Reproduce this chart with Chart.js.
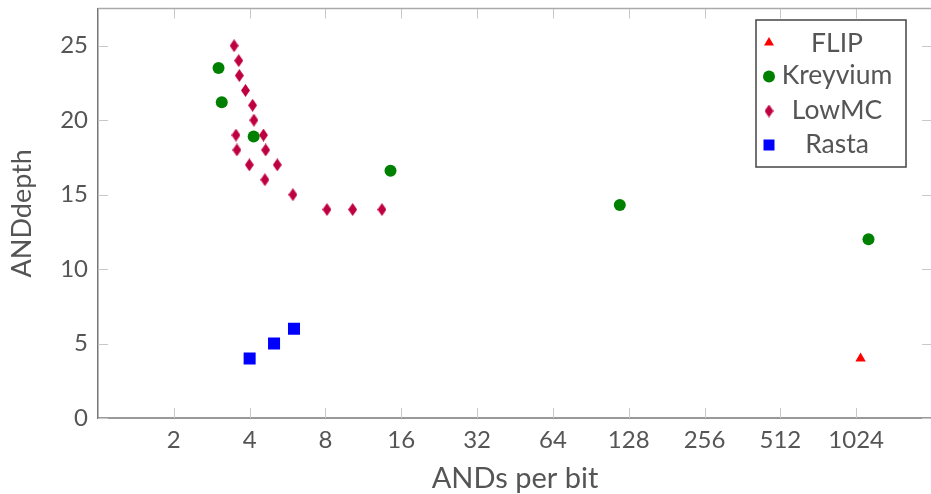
<!DOCTYPE html>
<html><head><meta charset="utf-8">
<script src="https://cdn.jsdelivr.net/npm/chart.js@4/dist/chart.umd.min.js"></script>
<style>
html,body{margin:0;padding:0;overflow:hidden;background:#fff;}
#wrap{width:942px;height:494px;}
</style></head><body>
<div id="wrap"><canvas id="c" width="942" height="494"></canvas></div>
<script>
// ---- data ----
const xTickValues = [2, 4, 8, 16, 32, 64, 128, 256, 512, 1024];
const yTickValues = [0, 5, 10, 15, 20, 25];
const seriesNames = ['FLIP', 'Kreyvium', 'LowMC', 'Rasta'];

const flipX = [1066];
const flipY = [4];

const kreyviumX = [3.01, 3.10, 4.15, 14.5, 118, 1146];
const kreyviumY = [23.5, 21.2, 18.9, 16.6, 14.3, 12.0];

const lowmcX = [3.47, 3.62, 3.64, 3.85, 4.11, 4.16, 3.53, 4.54, 3.56, 4.63, 3.99, 5.15, 4.60, 5.94, 8.11, 10.26, 13.41];
const lowmcY = [25, 24, 23, 22, 21, 20, 19, 19, 18, 18, 17, 17, 16, 15, 14, 14, 14];

const rastaX = [4, 5, 6];
const rastaY = [4, 5, 6];

// ---- styles ----
const COLORS = { FLIP: '#ff0000', Kreyvium: '#008000', LowMC: '#bf0040', Rasta: '#0000ff' };
const TEXT = '#555555';

function makeDiamond(w, h, color) {
  const c = document.createElement('canvas');
  c.width = w; c.height = h;
  const g = c.getContext('2d');
  g.fillStyle = color;
  g.beginPath();
  g.moveTo(w / 2, 0); g.lineTo(w, h / 2); g.lineTo(w / 2, h); g.lineTo(0, h / 2);
  g.closePath(); g.fill();
  return c;
}
const diamondImg = makeDiamond(9, 13, COLORS.LowMC);

function pts(xs, ys) { return xs.map((x, i) => ({ x: x, y: ys[i] })); }

const datasets = [
  { label: seriesNames[0], data: pts(flipX, flipY), pointStyle: 'triangle', pointRadius: 6,
    backgroundColor: COLORS.FLIP, borderColor: COLORS.FLIP, borderWidth: 0 },
  { label: seriesNames[1], data: pts(kreyviumX, kreyviumY), pointStyle: 'circle', pointRadius: 6,
    backgroundColor: COLORS.Kreyvium, borderColor: COLORS.Kreyvium, borderWidth: 0 },
  { label: seriesNames[2], data: pts(lowmcX, lowmcY), pointStyle: diamondImg, pointRadius: 7,
    backgroundColor: COLORS.LowMC, borderColor: COLORS.LowMC, borderWidth: 0 },
  { label: seriesNames[3], data: pts(rastaX, rastaY), pointStyle: 'rect', pointRadius: 8.5,
    backgroundColor: COLORS.Rasta, borderColor: COLORS.Rasta, borderWidth: 0 }
];

const innerTicks = {
  id: 'innerTicks',
  beforeDatasetsDraw(chart) {
    const { ctx, chartArea: a, scales: { x, y } } = chart;
    ctx.save();
    ctx.strokeStyle = '#c8c8c8';
    ctx.lineWidth = 1;
    ctx.beginPath();
    xTickValues.forEach(v => {
      const px = Math.round(x.getPixelForValue(v)) + 0.5;
      ctx.moveTo(px, a.bottom); ctx.lineTo(px, a.bottom - 10);
      ctx.moveTo(px, a.top); ctx.lineTo(px, a.top + 10);
    });
    yTickValues.forEach(v => {
      const py = Math.round(y.getPixelForValue(v)) + 0.5;
      ctx.moveTo(a.left, py); ctx.lineTo(a.left + 10, py);
      ctx.moveTo(a.right, py); ctx.lineTo(a.right - 10, py);
    });
    ctx.stroke();
    ctx.strokeStyle = '#aaaaaa';
    ctx.lineWidth = 1.5;
    ctx.beginPath();
    ctx.moveTo(a.left, a.top); ctx.lineTo(a.right, a.top);
    ctx.moveTo(a.right, a.top); ctx.lineTo(a.right, a.bottom);
    ctx.stroke();
    ctx.restore();
  }
};

const boxLegend = {
  id: 'boxLegend',
  afterDraw(chart) {
    const ctx = chart.ctx;
    ctx.save();
    ctx.fillStyle = '#fff';
    ctx.fillRect(756, 20, 150, 147);
    ctx.strokeStyle = '#444';
    ctx.lineWidth = 1.5;
    ctx.strokeRect(756, 20, 150, 147);
    const mx = 769, tx = 837;
    const rows = [42, 76.5, 111, 145];
    const textRows = [43, 75.5, 110, 144.5];
    ctx.font = '26.5px Lato';
    ctx.textAlign = 'center';
    ctx.textBaseline = 'middle';
    chart.data.datasets.forEach((ds, i) => {
      const cy = rows[i];
      ctx.fillStyle = ds.backgroundColor;
      ctx.beginPath();
      if (i === 0) {
        ctx.moveTo(mx, cy - 5); ctx.lineTo(mx + 5, cy + 3.5); ctx.lineTo(mx - 5, cy + 3.5); ctx.closePath(); ctx.fill();
      } else if (i === 1) {
        ctx.arc(mx, cy, 6, 0, Math.PI * 2); ctx.fill();
      } else if (i === 2) {
        ctx.drawImage(diamondImg, mx - 4.5, cy - 6.5);
      } else {
        ctx.fillRect(mx - 5.5, cy - 5.5, 11, 11);
      }
      ctx.fillStyle = TEXT;
      ctx.fillText(ds.label, tx, textRows[i]);
    });
    ctx.restore();
  }
};

new Chart(document.getElementById('c'), {
  type: 'scatter',
  data: { datasets },
  options: {
    responsive: false,
    animation: false,
    events: [],
    layout: { padding: { top: 7, right: 10, left: 0, bottom: 0 } },
    plugins: { legend: { display: false }, tooltip: { enabled: false } },
    scales: {
      x: {
        type: 'logarithmic', min: 1, max: 2048,
        afterBuildTicks: s => { s.ticks = xTickValues.map(v => ({ value: v })); },
        afterFit: s => { s.height = 76; s.paddingLeft = 0; s.paddingRight = 0; },
        grid: { display: false, drawTicks: false },
        border: { display: true, color: '#999999', width: 2 },
        ticks: { color: TEXT, font: { family: 'Lato', size: 24 }, padding: 8, autoSkip: false, maxRotation: 0,
          callback: v => String(v) },
        title: { display: true, text: 'ANDs per bit', color: TEXT,
          font: { family: 'Lato', size: 29, lineHeight: 1 }, padding: { top: 0, bottom: 1 } }
      },
      y: {
        type: 'linear', min: 0, max: 27.5,
        afterBuildTicks: s => { s.ticks = yTickValues.map(v => ({ value: v })); },
        afterFit: s => { s.width = 98; s.paddingTop = 0; s.paddingBottom = 0; },
        grid: { display: false, drawTicks: false },
        border: { display: true, color: '#777777', width: 1.5 },
        ticks: { color: TEXT, font: { family: 'Lato', size: 24 }, padding: 10 },
        title: { display: true, text: 'ANDdepth', color: TEXT,
          font: { family: 'Lato', size: 27, lineHeight: 1 }, padding: { top: 9, bottom: 0 } }
      }
    }
  },
  plugins: [innerTicks, boxLegend]
});
</script>
</body></html>
